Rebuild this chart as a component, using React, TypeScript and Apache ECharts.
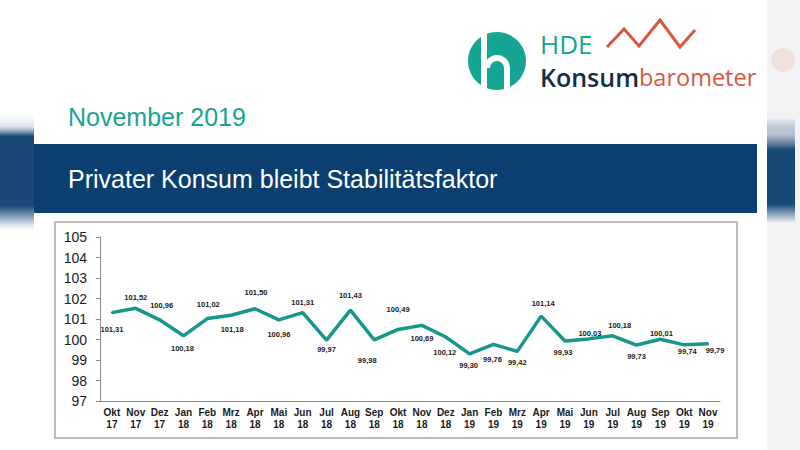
import React, { useEffect, useRef } from "react";
import * as echarts from "echarts";

// ---- data ----
const MONTHS = ["Okt", "Nov", "Dez", "Jan", "Feb", "Mrz", "Apr", "Mai", "Jun", "Jul", "Aug", "Sep", "Okt", "Nov", "Dez", "Jan", "Feb", "Mrz", "Apr", "Mai", "Jun", "Jul", "Aug", "Sep", "Okt", "Nov"];
const YEARS = ["17", "17", "17", "18", "18", "18", "18", "18", "18", "18", "18", "18", "18", "18", "18", "19", "19", "19", "19", "19", "19", "19", "19", "19", "19", "19"];
const VALUES = [101.31, 101.52, 100.96, 100.18, 101.02, 101.18, 101.5, 100.96, 101.31, 99.97, 101.43, 99.98, 100.49, 100.69, 100.12, 99.3, 99.76, 99.42, 101.14, 99.93, 100.03, 100.18, 99.73, 100.01, 99.74, 99.79];
const Y_MIN = 97;
const Y_MAX = 105;
const Y_STEP = 1;
const TITLE_DATE = "November 2019";
const HEADLINE = "Privater Konsum bleibt Stabilitätsfaktor";

// ---- styling: label offsets (pixels) around each point ----
const LABEL_OFFSETS: [number, number][] = [
  [0, 17], [0, -11], [2, -14], [-1, 13], [1, -14], [1, 14], [1, -16], [0, 15], [0, -10], [0, 9],
  [0, -15], [-7, 21], [0, -20], [0, 13], [-1, 15], [-1, 12], [-1, 15], [0, 11], [2, -13], [-2, 12],
  [1, -5], [7, -10], [0, 11], [1, -6], [3, 7], [7, 7],
];

const TEAL = "#17978b";
const NAVY = "#0a3f6f";
const ORANGE = "#d9573f";

export default function App() {
  const ref = useRef<HTMLDivElement>(null);
  useEffect(() => {
    if (!ref.current) return;
    const chart = echarts.init(ref.current, null, { renderer: "svg" });
    const categories = MONTHS.map((m, i) => `${m}\n${YEARS[i]}`);
    const fmt = (v: number) => v.toFixed(2).replace(".", ",");
    chart.setOption({
      animation: false,
      backgroundColor: "#ffffff",
      grid: { left: 100, right: 80, top: 237, bottom: 49, containLabel: false },
      xAxis: {
        type: "category",
        data: categories,
        boundaryGap: true,
        axisLine: { show: true, lineStyle: { color: "#8c8c8c", width: 1 } },
        axisTick: { show: false },
        axisLabel: {
          interval: 0,
          margin: 5,
          fontFamily: "Liberation Sans",
          fontWeight: "bold",
          fontSize: 10,
          lineHeight: 12,
          color: "#1a1a1a",
        },
        splitLine: { show: false },
      },
      yAxis: {
        type: "value",
        min: Y_MIN,
        max: Y_MAX,
        interval: Y_STEP,
        axisLine: { show: true, lineStyle: { color: "#8c8c8c", width: 1 } },
        axisTick: { show: true, inside: false, length: 4, lineStyle: { color: "#8c8c8c" } },
        axisLabel: {
          margin: 13,
          fontFamily: "Liberation Sans",
          fontSize: 14,
          color: "#222222",
        },
        splitLine: { show: false },
      },
      series: [
        {
          type: "line",
          data: VALUES.map((v, i) => ({
            value: v,
            label: { offset: LABEL_OFFSETS[i] },
          })),
          symbol: "circle",
          symbolSize: 2,
          showSymbol: true,
          itemStyle: { color: TEAL },
          lineStyle: { color: TEAL, width: 3.5 },
          label: {
            show: true,
            position: "inside",
            formatter: (p: any) => fmt(p.value),
            fontFamily: "Liberation Sans",
            fontWeight: "bold",
            fontSize: 7.5,
            color: "#1a1a1a",
          },
          z: 3,
        },
      ],
      graphic: [
        // blurred outside background, left
        {
          type: "rect",
          z: -10,
          shape: { x: 0, y: 112, width: 34, height: 120 },
          style: {
            fill: new echarts.graphic.LinearGradient(0, 0, 0, 1, [
              { offset: 0, color: "rgba(230,233,238,0)" },
              { offset: 0.12, color: "rgba(200,208,220,0.6)" },
              { offset: 0.2, color: "rgba(13,63,112,0.95)" },
              { offset: 0.78, color: "rgba(13,63,112,0.95)" },
              { offset: 0.93, color: "rgba(13,63,112,0.2)" },
              { offset: 1, color: "rgba(255,255,255,0)" },
            ]),
          },
        },
        // right side light strip
        {
          type: "rect",
          z: -11,
          shape: { x: 767, y: 0, width: 33, height: 450 },
          style: { fill: "#f3f3f5" },
        },
        {
          type: "rect",
          z: -10,
          shape: { x: 767, y: 118, width: 28, height: 105 },
          style: {
            fill: new echarts.graphic.LinearGradient(0, 0, 0, 1, [
              { offset: 0, color: "rgba(13,63,112,0)" },
              { offset: 0.15, color: "rgba(150,165,185,0.6)" },
              { offset: 0.3, color: "rgba(13,63,112,0.95)" },
              { offset: 0.82, color: "rgba(13,63,112,0.95)" },
              { offset: 1, color: "rgba(13,63,112,0)" },
            ]),
          },
        },
        {
          type: "circle",
          z: -10,
          shape: { cx: 783, cy: 60, r: 12 },
          style: { fill: "rgba(236,190,175,0.35)" },
        },
        // slide body
        {
          type: "rect",
          z: -9,
          shape: { x: 34, y: 0, width: 733, height: 450 },
          style: { fill: "#ffffff" },
        },
        // logo
        {
          type: "circle",
          z: 5,
          shape: { cx: 497, cy: 61, r: 29 },
          style: { fill: "#14a593" },
        },
        {
          type: "rect",
          z: 6,
          shape: { x: 481, y: 30, width: 6, height: 64 },
          style: { fill: "#ffffff" },
        },
        {
          type: "arc",
          z: 6,
          shape: { cx: 497, cy: 68, r: 10, startAngle: Math.PI, endAngle: Math.PI * 2 },
          style: { stroke: "#ffffff", lineWidth: 6, fill: "none" },
        },
        {
          type: "rect",
          z: 6,
          shape: { x: 504, y: 67, width: 6, height: 27 },
          style: { fill: "#ffffff" },
        },
        {
          type: "text",
          z: 5,
          style: {
            text: "HDE",
            x: 540,
            y: 44,
            fill: "#14a593",
            font: "26px 'Open Sans'",
            verticalAlign: "middle",
          },
        },
        {
          type: "polyline",
          z: 5,
          shape: { points: [[607, 47], [624, 29], [639, 46], [660, 20], [680, 47], [695, 30]] },
          style: { stroke: ORANGE, lineWidth: 3, fill: "none" },
        },
        {
          type: "text",
          z: 5,
          style: {
            text: "{a|Konsum}{b|barometer}",
            x: 540,
            y: 77,
            verticalAlign: "middle",
            rich: {
              a: { fill: "#142d4c", font: "600 25px 'Open Sans'" },
              b: { fill: ORANGE, font: "23.5px 'Open Sans'" },
            },
          },
        },
        // date title
        {
          type: "text",
          z: 5,
          style: {
            text: TITLE_DATE,
            x: 68,
            y: 117,
            fill: "#1aa394",
            font: "25px 'Liberation Sans'",
            verticalAlign: "middle",
          },
        },
        // banner
        {
          type: "rect",
          z: 4,
          shape: { x: 34, y: 144, width: 723, height: 69 },
          style: { fill: NAVY },
        },
        {
          type: "text",
          z: 5,
          style: {
            text: HEADLINE,
            x: 68,
            y: 179,
            fill: "#ffffff",
            font: "25px 'Liberation Sans'",
            verticalAlign: "middle",
          },
        },
        // chart frame
        {
          type: "rect",
          z: 1,
          shape: { x: 55, y: 222, width: 682, height: 216 },
          style: { fill: "none", stroke: "#a6a6a6", lineWidth: 1.5 },
        },
      ],
    });
    return () => chart.dispose();
  }, []);
  return (
    <div
      ref={ref}
      style={{ position: "fixed", left: 0, top: 0, width: 800, height: 450 }}
    />
  );
}
